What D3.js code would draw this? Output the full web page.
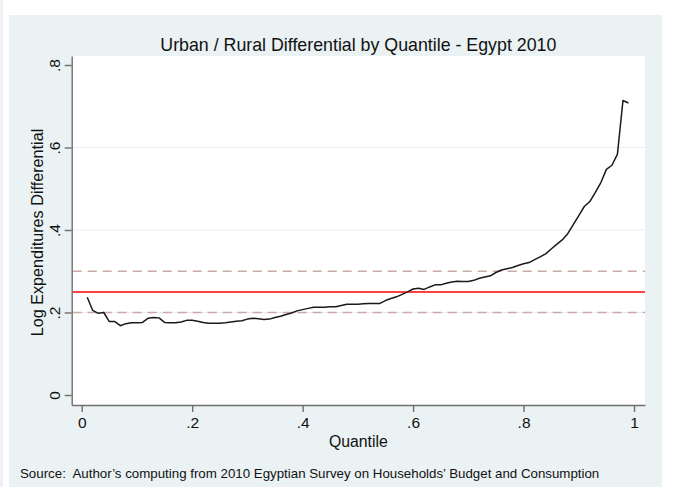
<!DOCTYPE html>
<html>
<head>
<meta charset="utf-8">
<script src="https://cdn.jsdelivr.net/npm/d3@7"></script>
<style>
  html, body { margin: 0; padding: 0; background: #ffffff; }
  svg { display: block; }
  text { font-family: "Liberation Sans", Arial, sans-serif; fill: #111; white-space: pre; }
</style>
</head>
<body>
<script>
// Quantiles 0.01 .. 0.99
const quantiles = d3.range(1, 100).map(i => i / 100);
// Urban minus rural log expenditure at each quantile
const differential = [
  0.237, 0.205, 0.198, 0.200, 0.178, 0.178, 0.168, 0.173, 0.175, 0.175,
  0.176, 0.186, 0.188, 0.187, 0.176, 0.175, 0.175, 0.177, 0.181, 0.181,
  0.179, 0.176, 0.174, 0.174, 0.174, 0.175, 0.177, 0.179, 0.180, 0.184,
  0.186, 0.185, 0.183, 0.184, 0.188, 0.191, 0.195, 0.199, 0.204, 0.207,
  0.210, 0.213, 0.213, 0.213, 0.214, 0.214, 0.217, 0.220, 0.220, 0.220,
  0.221, 0.222, 0.222, 0.222, 0.229, 0.234, 0.238, 0.244, 0.250, 0.257,
  0.259, 0.256, 0.262, 0.267, 0.267, 0.271, 0.274, 0.276, 0.275, 0.275,
  0.278, 0.283, 0.286, 0.289, 0.297, 0.303, 0.306, 0.309, 0.314, 0.318,
  0.321, 0.328, 0.335, 0.342, 0.354, 0.365, 0.376, 0.391, 0.413, 0.435,
  0.457, 0.469, 0.491, 0.515, 0.547, 0.557, 0.584, 0.714, 0.708
];
// Reference levels: mean differential (solid) and band (dashed)
const meanLevel = 0.25;
const bandLevels = [0.2, 0.3];

const xTicks = [0, 0.2, 0.4, 0.6, 0.8, 1];
const yTicks = [0, 0.2, 0.4, 0.6, 0.8];
const gridValues = [0.2, 0.4, 0.6];

const titleText = "Urban / Rural Differential by Quantile - Egypt 2010";
const xTitle = "Quantile";
const yTitle = "Log Expenditures Differential";
const sourceText = "Source:  Author\u2019s computing from 2010 Egyptian Survey on Households\u2019 Budget and Consumption";

const W = 678, H = 487;
const plot = { left: 71.7, right: 645, top: 56, bottom: 405 };

const svg = d3.select("body").append("svg")
  .attr("width", W).attr("height", H);

// outer backdrop
svg.append("rect").attr("x", 0).attr("y", 0).attr("width", 3).attr("height", H)
  .attr("fill", "#edf3f5");
svg.append("rect").attr("x", 9).attr("y", 15).attr("width", 653).attr("height", H - 15)
  .attr("fill", "#eaf2f3");

// plot region
svg.append("rect")
  .attr("x", plot.left).attr("y", plot.top)
  .attr("width", plot.right - plot.left).attr("height", plot.bottom - plot.top)
  .attr("fill", "#ffffff");

const fmt = d => (d === 0 ? "0" : d === 1 ? "1" : d3.format(".1f")(d).replace(/^0/, ""));

const x = d3.scaleLinear()
  .domain([-0.0181, 1.0199])
  .range([plot.left, plot.right]);
const y = d3.scaleLinear()
  .domain([-0.0242, 0.8218])
  .range([plot.bottom, plot.top]);

// grid
svg.append("g").selectAll("line").data(gridValues).join("line")
  .attr("x1", plot.left).attr("x2", plot.right)
  .attr("y1", d => y(d)).attr("y2", d => y(d))
  .attr("stroke", "#e4edf0").attr("stroke-width", 1.2);

// dashed band
svg.append("g").selectAll("line").data(bandLevels).join("line")
  .attr("x1", plot.left + 1).attr("x2", plot.right)
  .attr("y1", d => y(d)).attr("y2", d => y(d))
  .attr("stroke", "#c9aaa5").attr("stroke-width", 1.5)
  .attr("stroke-dasharray", "9,6");

// mean level
svg.append("line")
  .attr("x1", plot.left + 1).attr("x2", plot.right)
  .attr("y1", y(meanLevel)).attr("y2", y(meanLevel))
  .attr("stroke", "#ff4040").attr("stroke-width", 2);

// differential curve
const series = quantiles.map((q, i) => [q, differential[i]]);
svg.append("path")
  .datum(series)
  .attr("fill", "none")
  .attr("stroke", "#1a1a1a")
  .attr("stroke-width", 1.5)
  .attr("stroke-linejoin", "round")
  .attr("d", d3.line().x(d => x(d[0])).y(d => y(d[1])));

// axes
const axisColor = "#6f6f6f";
const gx = svg.append("g")
  .attr("transform", `translate(0,${plot.bottom})`)
  .call(d3.axisBottom(x).tickValues(xTicks).tickFormat(fmt).tickSizeInner(7).tickSizeOuter(0).tickPadding(5));
const gy = svg.append("g")
  .attr("transform", `translate(${plot.left},0)`)
  .call(d3.axisLeft(y).tickValues(yTicks).tickFormat(fmt).tickSizeInner(7).tickSizeOuter(0));

[gx, gy].forEach(g => {
  g.select(".domain").attr("stroke", axisColor).attr("stroke-width", 1.4);
  g.selectAll(".tick line").attr("stroke", axisColor).attr("stroke-width", 1.4);
  g.selectAll(".tick text").attr("fill", "#111").style("font-size", "15.5px")
    .style("font-family", "'Liberation Sans', Arial, sans-serif");
});

// vertical y tick labels
gy.selectAll(".tick text")
  .attr("x", null).attr("dy", null)
  .attr("text-anchor", "middle")
  .attr("transform", "translate(-17,0) rotate(-90)")
  .attr("dy", "0.35em");

// titles
svg.append("text")
  .attr("x", (plot.left + plot.right) / 2).attr("y", 51)
  .attr("text-anchor", "middle")
  .style("font-size", "17.8px")
  .text(titleText);

svg.append("text")
  .attr("x", (plot.left + plot.right) / 2).attr("y", 447)
  .attr("text-anchor", "middle")
  .style("font-size", "15.8px")
  .text(xTitle);

svg.append("text")
  .attr("transform", `translate(43,${(plot.top + plot.bottom) / 2 + 2}) rotate(-90)`)
  .attr("text-anchor", "middle")
  .style("font-size", "16.2px")
  .text(yTitle);

svg.append("text")
  .attr("x", 20).attr("y", 478)
  .style("font-size", "13.3px")
  .text(sourceText);
</script>
</body>
</html>
